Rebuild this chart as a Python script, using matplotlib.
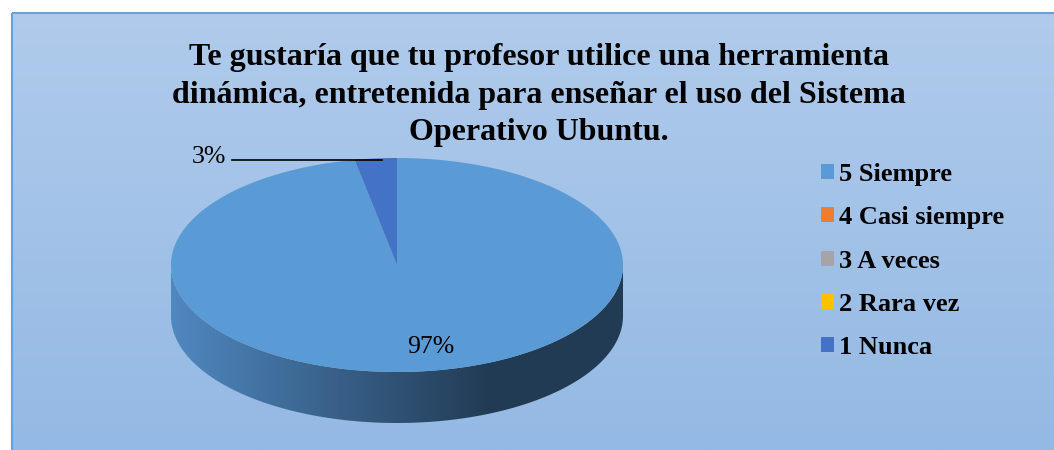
import numpy as np
import matplotlib
matplotlib.use("Agg")
import matplotlib.pyplot as plt
from matplotlib.patches import Polygon, Rectangle, Patch

categories = ["5 Siempre", "4 Casi siempre", "3 A veces", "2 Rara vez", "1 Nunca"]
values = [97, 0, 0, 0, 3]
colors = ["#5b9bd5", "#ed7d31", "#a5a5a5", "#ffc000", "#4472c4"]
title_lines = ["Te gustaría que tu profesor utilice una herramienta",
               "dinámica, entretenida para enseñar el uso del Sistema",
               "Operativo Ubuntu."]

W, H = 1054, 450
fig = plt.figure(figsize=(W / 100, H / 100), dpi=100)
ax = fig.add_axes([0, 0, 1, 1])
ax.set_xlim(0, W)
ax.set_ylim(H, 0)
ax.axis("off")

# chart area background, vertical gradient
x0, y0 = 12, 13
top_c = np.array([176, 203, 235]) / 255
bot_c = np.array([148, 185, 228]) / 255
t = np.linspace(0, 1, 200)[:, None]
grad = (top_c * (1 - t) + bot_c * t)[:, None, :]
ax.imshow(grad, extent=[x0, W, H, y0], aspect="auto", zorder=0)
ax.add_patch(Rectangle((x0, y0), W - x0 + 5, H - y0 + 5, fill=False,
                       edgecolor="#6a9fd8", lw=1.5, zorder=1))

# 3d pie geometry (pixels)
cx, cy, rx, ry, depth = 397, 265, 226, 107, 51


def pt(theta, dy=0.0):
    # theta clockwise from 12 o'clock, in degrees
    r = np.radians(theta)
    return cx + rx * np.sin(r), cy - ry * np.cos(r) + dy


total = sum(values)
bounds = np.concatenate([[0], np.cumsum(values) / total * 360])

# side wall: front half (90..270 deg), only slices that reach it
for i, v in enumerate(values):
    if v == 0:
        continue
    a, b = max(bounds[i], 90), min(bounds[i + 1], 270)
    if b <= a:
        continue
    th = np.linspace(a, b, 200)
    xs, ys = pt(th)
    xb, yb = pt(th[::-1], depth)
    side = Polygon(np.column_stack([np.r_[xs, xb], np.r_[ys, yb]]),
                   closed=True, facecolor="none", edgecolor="none", zorder=2)
    ax.add_patch(side)
    left_c = np.array([80, 136, 192]) / 255
    dark_c = np.array([34, 59, 84]) / 255
    gx = np.linspace(cx - rx, cx + rx, 400)
    s = np.clip((gx - (cx - rx)) / (490 - (cx - rx)), 0, 1)[None, :, None]
    sg = left_c * (1 - s) + dark_c * s
    im = ax.imshow(sg, extent=[cx - rx, cx + rx, cy + depth + ry + 2, cy - 2],
                   aspect="auto", zorder=2)
    im.set_clip_path(side)

# top face
for i, v in enumerate(values):
    if v == 0:
        continue
    th = np.linspace(bounds[i], bounds[i + 1], 400)
    xs, ys = pt(th)
    poly = np.column_stack([np.r_[cx, xs], np.r_[cy, ys]])
    ax.add_patch(Polygon(poly, closed=True, facecolor=colors[i],
                         edgecolor="none", zorder=3))

serif = "Liberation Serif"

# data labels
ax.text(431, 347, f"{values[0]}%", ha="center", va="center",
        fontsize=18.5, family=serif, zorder=5)
ax.text(209, 157, f"{values[4]}%", ha="center", va="center",
        fontsize=18.5, family=serif, zorder=5)
ax.plot([232, 382], [160, 160], color="black", lw=1.2, zorder=5)

# title
for k, line in enumerate(title_lines):
    ax.text(539, 65 + 37.5 * k, line, ha="center", va="baseline", fontsize=23,
            fontweight="bold", family=serif, zorder=5)

# legend
handles = [Patch(facecolor=c, edgecolor="none") for c in colors]
leg = ax.legend(handles, categories, loc="upper left",
                bbox_to_anchor=(821 / W, 1 - 163 / H), frameon=False,
                prop={"family": serif, "weight": "bold", "size": 19},
                handlelength=0.5, handleheight=0.5, handletextpad=0.2,
                labelspacing=0.77, borderaxespad=0, borderpad=0)

fig.savefig("out.png", dpi=100)
